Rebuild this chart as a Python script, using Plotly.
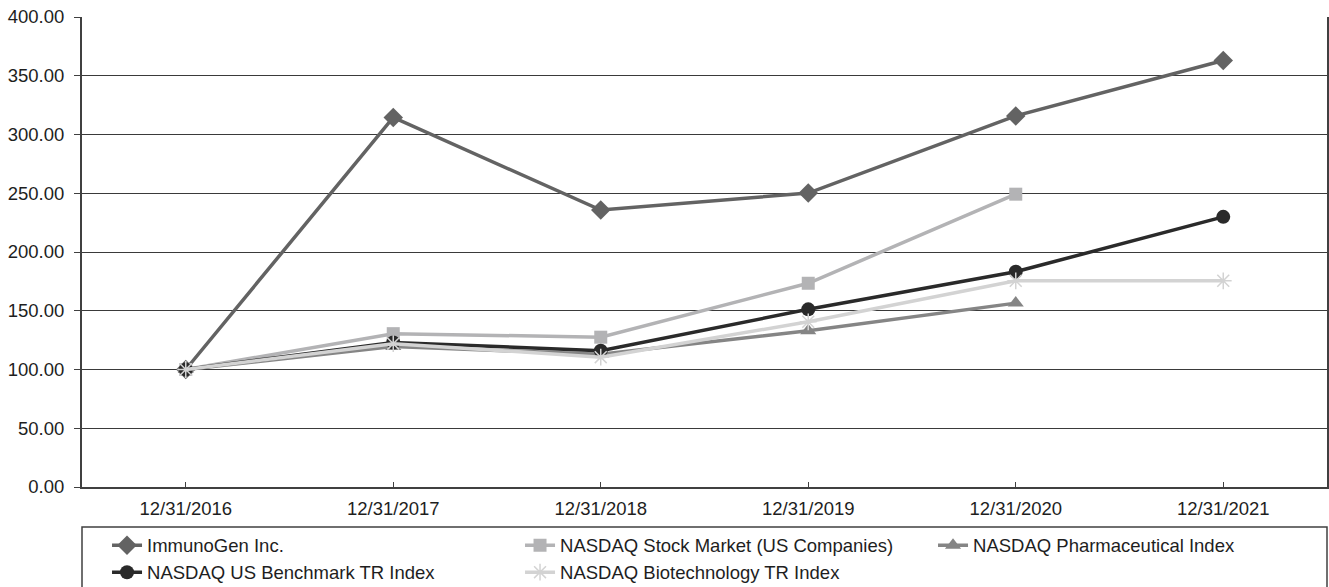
import plotly.graph_objects as go

dates = ["12/31/2016", "12/31/2017", "12/31/2018", "12/31/2019", "12/31/2020", "12/31/2021"]
immunogen = [100, 314.5, 235.7, 250.2, 315.8, 363.0]
nasdaq_market = [100, 130.5, 127.5, 173.4, 249.2, None]
nasdaq_pharma = [100, 119.5, 113.0, 133.0, 156.5, None]
nasdaq_benchmark = [100, 123.0, 116.0, 151.2, 183.2, 229.9]
nasdaq_biotech = [100, 122.0, 110.5, 140.6, 175.5, 175.5]
y_ticks = [0, 50, 100, 150, 200, 250, 300, 350, 400]

series = [
    ("ImmunoGen Inc.", immunogen, "#636363", "diamond", 15),
    ("NASDAQ Stock Market (US Companies)", nasdaq_market, "#b3b3b5", "square", 13),
    ("NASDAQ Pharmaceutical Index", nasdaq_pharma, "#858585", "triangle-up", 14),
    ("NASDAQ US Benchmark TR Index", nasdaq_benchmark, "#2a2a2a", "circle", 14),
    ("NASDAQ Biotechnology TR Index", nasdaq_biotech, "#d3d3d3", "asterisk-open", 14),
]

fig = go.Figure()
for name, vals, color, sym, size in series:
    fig.add_trace(go.Scatter(
        x=dates, y=vals, name=name, mode="lines+markers",
        line=dict(color=color, width=3.5),
        marker=dict(symbol=sym, size=size, color=color,
                    line=dict(color=color, width=1.5 if sym.startswith("asterisk") else 0)),
        connectgaps=False,
    ))

font = dict(family="Liberation Sans, Arial, sans-serif", size=18.5, color="#1e1e1e")

fig.update_layout(
    width=1329, height=587,
    margin=dict(l=82, r=2, t=17, b=100, autoexpand=False),
    paper_bgcolor="white", plot_bgcolor="white",
    font=font,
    showlegend=True,
    legend=dict(
        orientation="h", x=0.0201, xanchor="left", y=-0.0843, yanchor="top",
        entrywidth=368, entrywidthmode="pixels",
        font=font, bgcolor="rgba(0,0,0,0)", borderwidth=0,
        itemwidth=30, tracegroupgap=0,
    ),
    xaxis=dict(
        type="category", range=[-0.5, 5.5],
        showline=True, linecolor="#404040", linewidth=2,
        ticks="inside", ticklen=5, tickcolor="#404040", tickwidth=1,
        showgrid=False, zeroline=False, ticklabelstandoff=4,
    ),
    yaxis=dict(
        range=[0, 400], tickvals=y_ticks, tickformat=".2f",
        showline=True, linecolor="#404040", linewidth=2, mirror=True,
        ticks="outside", ticklen=6, tickcolor="#404040", tickwidth=1,
        showgrid=True, gridcolor="#3a3a3a", gridwidth=1,
        zeroline=False, ticklabelstandoff=6,
    ),
    shapes=[dict(
        type="rect", xref="paper", yref="paper",
        x0=0, x1=1, y0=-0.3, y1=-0.0851,
        line=dict(color="#404040", width=1.5), fillcolor="rgba(0,0,0,0)", layer="below",
    )],
)

fig.write_html("out.html")
